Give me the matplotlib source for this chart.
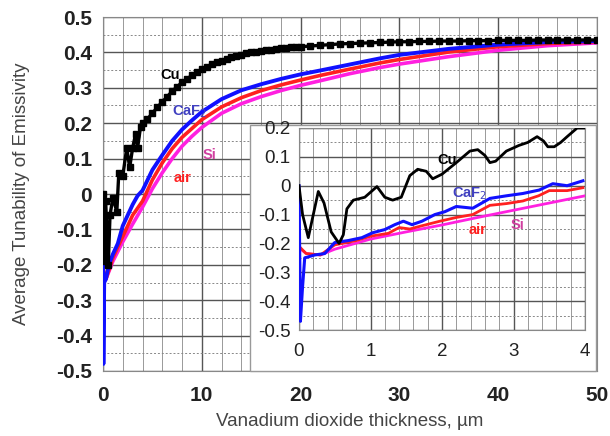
import matplotlib
matplotlib.use("Agg")
import matplotlib.pyplot as plt
from matplotlib.patches import Rectangle
from matplotlib.ticker import MultipleLocator

plt.rcParams['font.family'] = ['Liberation Sans', 'DejaVu Sans']

# ---------------- main plot data ----------------
cu_x = [0, 0.15, 0.27, 0.53, 0.71, 1.0, 1.4, 1.6, 2.0, 2.4, 2.7, 3.0, 3.3, 3.5, 3.8,
        4.0, 4.5, 5.0, 5.5, 6.0, 6.5, 7.0, 7.5, 8.0, 8.5, 9.0, 9.5, 10.0, 10.5, 11.0, 11.5,
        12.0, 12.5, 13.0, 13.5, 14.0, 14.5, 15.0, 15.5, 16.0, 16.5, 17.0, 17.5, 18.0, 18.5,
        19.0, 19.5, 20, 21, 22, 23, 24, 25, 26, 27, 28, 29, 30, 31, 32, 33, 34, 35, 36, 37,
        38, 39, 40, 41, 42, 43, 44, 45, 46, 47, 48, 49, 50]
cu_y = [0, -0.19, -0.02, -0.2, -0.06, -0.01, -0.05, 0.06, 0.05, 0.13, 0.075, 0.13, 0.17, 0.13, 0.19,
        0.20, 0.212, 0.228, 0.245, 0.26, 0.275, 0.29, 0.303, 0.315, 0.325, 0.335, 0.345, 0.352, 0.36,
        0.366, 0.372, 0.377, 0.382, 0.386, 0.39, 0.394, 0.397, 0.40, 0.402, 0.404, 0.406, 0.408, 0.41,
        0.412, 0.413, 0.414, 0.415, 0.416, 0.418, 0.42, 0.422, 0.424, 0.425, 0.426, 0.427, 0.428,
        0.429, 0.43, 0.43, 0.431, 0.431, 0.432, 0.432, 0.432, 0.433, 0.433, 0.433, 0.434, 0.434,
        0.434, 0.434, 0.435, 0.435, 0.435, 0.435, 0.435, 0.435, 0.435]

caf_x = [0, 0.04, 0.12, 0.3, 0.6, 1.0, 1.5, 2, 2.5, 3, 3.5, 4, 5, 6, 7, 8, 9, 10, 12, 14, 16,
         18, 20, 22, 25, 28, 30, 35, 40, 45, 50]
caf_y = [0, -0.48, -0.25, -0.24, -0.2, -0.17, -0.14, -0.09, -0.06, -0.03, -0.005, 0.01, 0.068, 0.11,
         0.15, 0.182, 0.208, 0.232, 0.268, 0.293, 0.31, 0.325, 0.338, 0.349, 0.366, 0.383, 0.393, 0.41,
         0.422, 0.429, 0.432]

air_x = [0, 0.3, 1, 2, 3, 4, 5, 6, 7, 8, 9, 10, 12, 14, 16, 18, 20, 22, 25, 28, 30, 35, 40, 45, 50]
air_y = [-0.21, -0.24, -0.18, -0.12, -0.06, -0.02, 0.04, 0.088, 0.128, 0.16, 0.185, 0.21, 0.246,
         0.272, 0.292, 0.308, 0.322, 0.335, 0.353, 0.37, 0.38, 0.401, 0.416, 0.425, 0.43]

si_x = [0, 0.3, 1, 2, 3, 4, 5, 6, 7, 8, 9, 10, 12, 14, 16, 18, 20, 22, 25, 28, 30, 35, 40, 45, 50]
si_y = [-0.22, -0.24, -0.19, -0.135, -0.085, -0.037, 0.015, 0.06, 0.1, 0.135, 0.163, 0.188, 0.228,
        0.255, 0.275, 0.292, 0.307, 0.32, 0.34, 0.357, 0.367, 0.388, 0.406, 0.419, 0.427]

# ---------------- inset data ----------------
icu_x = [0, 0.05, 0.13, 0.2, 0.27, 0.35, 0.45, 0.56, 0.62, 0.67, 0.76, 0.92, 1.09, 1.2, 1.31,
         1.43, 1.55, 1.66, 1.78, 1.87, 2.0, 2.2, 2.39, 2.5, 2.6, 2.67, 2.75, 2.9, 3.08, 3.2, 3.33,
         3.42, 3.48, 3.57, 3.66, 3.75, 3.89, 3.98]
icu_y = [0, -0.1, -0.18, -0.1, -0.02, -0.06, -0.16, -0.2, -0.17, -0.08, -0.05, -0.04, -0.003, -0.04,
         -0.05, -0.04, 0.035, 0.057, 0.05, 0.024, 0.04, 0.08, 0.12, 0.125, 0.105, 0.08, 0.085, 0.12,
         0.14, 0.15, 0.17, 0.155, 0.135, 0.135, 0.15, 0.17, 0.2, 0.2]

icaf_x = [0, 0.02, 0.05, 0.08, 0.22, 0.36, 0.5, 0.69, 0.88, 1.03, 1.2, 1.34, 1.46, 1.58, 1.72, 1.9,
          2.04, 2.2, 2.43, 2.67, 2.9, 3.13, 3.36, 3.55, 3.75, 3.97]
icaf_y = [0, -0.47, -0.35, -0.25, -0.24, -0.235, -0.197, -0.19, -0.18, -0.163, -0.152, -0.135, -0.123,
          -0.135, -0.123, -0.1, -0.09, -0.072, -0.078, -0.044, -0.035, -0.027, -0.015, 0.007, 0.0, 0.017]

iair_x = [0, 0.1, 0.3, 0.5, 0.8, 1.0, 1.25, 1.4, 1.55, 1.7, 1.97, 2.2, 2.43, 2.67, 2.9, 3.13,
          3.35, 3.5, 3.75, 3.97]
iair_y = [-0.21, -0.235, -0.24, -0.205, -0.19, -0.175, -0.165, -0.145, -0.15, -0.14, -0.123, -0.11,
          -0.1, -0.068, -0.062, -0.053, -0.035, -0.017, -0.017, -0.007]

isi_x = [0, 0.1, 0.3, 0.5, 1.0, 1.5, 2.0, 2.5, 3.0, 3.5, 4.0]
isi_y = [-0.215, -0.235, -0.24, -0.22, -0.185, -0.16, -0.136, -0.11, -0.085, -0.06, -0.035]

main_xticks = [0, 10, 20, 30, 40, 50]
main_yticks = [-0.5, -0.4, -0.3, -0.2, -0.1, 0, 0.1, 0.2, 0.3, 0.4, 0.5]
main_yticklabels = ['-0.5', '-0.4', '-0.3', '-0.2', '-0.1', '0', '0.1', '0.2', '0.3', '0.4', '0.5']
inset_xticks = [0, 1, 2, 3, 4]
inset_yticks = [-0.5, -0.4, -0.3, -0.2, -0.1, 0, 0.1, 0.2]
inset_yticklabels = ['-0.5', '-0.4', '-0.3', '-0.2', '-0.1', '0', '0.1', '0.2']

BLUE = '#1010ff'
RED = '#ff2020'
MAG = '#ff20e0'
BLACK = '#000000'

fig = plt.figure(figsize=(6.10, 4.36), dpi=100)
ax = fig.add_axes([103/610, 1-371/436, 494/610, 354/436])

def style_grid(a, xmaj, xmin, ymaj, ymin):
    a.xaxis.set_major_locator(MultipleLocator(xmaj))
    a.xaxis.set_minor_locator(MultipleLocator(xmin))
    a.yaxis.set_minor_locator(MultipleLocator(ymin))
    a.grid(which='major', color='#555555', linewidth=1.0, linestyle='-')
    a.grid(which='minor', axis='x', color='#999999', linewidth=0.7, linestyle='-')
    a.grid(which='minor', axis='y', color='#888888', linewidth=0.7, linestyle=(0, (2, 2)))
    a.set_axisbelow(True)
    for s in a.spines.values():
        s.set_color('#888888')
        s.set_linewidth(0.8)
    a.tick_params(which='both', direction='in', length=0, colors='#222222')

ax.plot(si_x, si_y, color=MAG, lw=2.6, zorder=3)
ax.plot(air_x, air_y, color=RED, lw=2.6, zorder=4)
ax.plot(caf_x, caf_y, color=BLUE, lw=2.8, zorder=5)
ax.plot(cu_x, cu_y, color=BLACK, lw=2.4, marker='s', markersize=4.2, zorder=6)
ax.set_xlim(0, 50)
ax.set_ylim(-0.5, 0.5)
style_grid(ax, 10, 2, 0.1, 0.05)
ax.set_xticks(main_xticks)
ax.set_xticklabels([str(v) for v in main_xticks], fontsize=15, fontweight='bold')
ax.set_yticks(main_yticks)
ax.set_yticklabels(main_yticklabels, fontsize=15, fontweight='bold')
ax.tick_params(axis='x', pad=11)
ax.tick_params(axis='y', pad=8)
ax.set_xlabel('Vanadium dioxide thickness, \u00b5m', fontsize=13.5, color='#444444')
ax.set_ylabel('Average Tunability of Emissivity', fontsize=13.5, color='#444444')
ax.xaxis.set_label_coords(0.5, -51/354, transform=ax.transAxes)
ax.yaxis.set_label_coords(-81/494, 0.5, transform=ax.transAxes)
ax.xaxis.label.set_va('center')
ax.yaxis.label.set_va('center')

ax.text(6.8, 0.336, 'Cu', color=BLACK, fontsize=10.5, fontweight='bold', ha='center', va='center', zorder=7)
ax.text(8.8, 0.232, 'CaF$_2$', color='#4040c0', fontsize=10.5, fontweight='bold', ha='center', va='center', zorder=7)
ax.text(10.8, 0.11, 'Si', color='#d040a0', fontsize=10.5, fontweight='bold', ha='center', va='center', zorder=7)
ax.text(8.1, 0.045, 'air', color=RED, fontsize=10.5, fontweight='bold', ha='center', va='center', zorder=7)

# inset background box
fig.patches.append(Rectangle((250/610, 1-371/436), 346/610, 246/436, transform=fig.transFigure,
                             facecolor='white', edgecolor='#999999', linewidth=1.0, zorder=1))

ins = fig.add_axes([299/610, 1-330/436, 286/610, 202/436], zorder=2)
ins.plot(isi_x, isi_y, color=MAG, lw=2.0, zorder=3)
ins.plot(iair_x, iair_y, color=RED, lw=2.0, zorder=4)
ins.plot(icaf_x, icaf_y, color=BLUE, lw=2.2, zorder=5)
ins.plot(icu_x, icu_y, color=BLACK, lw=2.0, zorder=6)
ins.set_xlim(0, 4)
ins.set_ylim(-0.5, 0.2)
style_grid(ins, 1, 0.2, 0.1, 0.05)
ins.set_xticks(inset_xticks)
ins.set_xticklabels([str(v) for v in inset_xticks], fontsize=13.5)
ins.set_yticks(inset_yticks)
ins.set_yticklabels(inset_yticklabels, fontsize=13.5)
ins.tick_params(axis='x', pad=9)
ins.tick_params(axis='y', pad=6)

ins.text(2.07, 0.09, 'Cu', color=BLACK, fontsize=10.5, fontweight='bold', ha='center', va='center', zorder=7)
ins.text(2.38, -0.027, 'CaF$_2$', color='#4040c0', fontsize=10.5, fontweight='bold', ha='center', va='center', zorder=7)
ins.text(2.5, -0.155, 'air', color=RED, fontsize=10.5, fontweight='bold', ha='center', va='center', zorder=7)
ins.text(3.05, -0.135, 'Si', color='#d040a0', fontsize=10.5, fontweight='bold', ha='center', va='center', zorder=7)

fig.savefig('out.png', dpi=100)
